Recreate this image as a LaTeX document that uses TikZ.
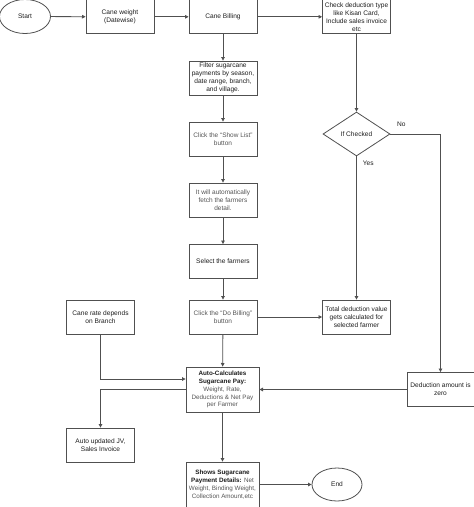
\documentclass[tikz,border=0pt]{standalone}
\usepackage{fontspec}
\setmainfont{Liberation Sans}
\usetikzlibrary{shapes.geometric,arrows.meta}
\definecolor{ln}{HTML}{505050}
\definecolor{tx}{HTML}{1E1E1E}
\definecolor{tl}{HTML}{555555}
\tikzset{
  base/.style={draw=ln, line width=0.8pt, font=\fontsize{6.6}{7.9}\selectfont, text=tx, align=center, inner sep=1pt},
  box/.style={base, rectangle, minimum width=68pt, minimum height=34pt},
  wbox/.style={base, rectangle, minimum width=73pt, minimum height=45pt},
  oval/.style={base, ellipse, minimum width=51pt, minimum height=34pt},
  dia/.style={base, diamond, minimum width=67pt, minimum height=44pt, inner sep=0pt},
  light/.style={text=tl, font=\fontsize{6.5}{7.9}\selectfont},
  lightw/.style={text=tl, font=\fontsize{6.3}{7.9}\selectfont},
  arr/.style={draw=ln, line width=0.8pt, -{Triangle[length=3.6pt,width=3.6pt]}},
  lbl/.style={font=\fontsize{6.6}{7.9}\selectfont, text=tx, inner sep=0pt}
}
\begin{document}
\begin{tikzpicture}[x=1pt,y=-1pt]
\useasboundingbox (0,0) rectangle (474,507);
\fill[white] (0,0) rectangle (474,507);
\clip (0,0) rectangle (474,507);

\node[oval] (start) at (25,16.5) {Start};
\node[box] (cw) at (120,16.8) {Cane weight\\(Datewise)};
\node[box] (cb) at (223,16.8) {Cane Billing};
\node[box] (cd) at (356.5,16.8) {Check deduction type\\like Kisan Card,\\Include sales invoice\\etc};

\node[box] (filter) at (223,78) {Filter sugarcane\\payments by season,\\date range, branch,\\and village.};
\node[box, light] (show) at (223,139) {Click the “Show List”\\button};
\node[box, light] (fetch) at (223,200) {It will automatically\\fetch the farmers\\detail.};
\node[box] (select) at (223,261.5) {Select the farmers};
\node[box, light] (dobill) at (223,317) {Click the “Do Billing”\\button};
\node[box] (rate) at (100.5,317) {Cane rate depends\\on Branch};
\node[box] (total) at (356.5,317) {Total deduction value\\gets calculated for\\selected farmer};

\node[dia] (chk) at (356.5,134) {If Checked};
\node[box, minimum width=67pt] (dz) at (440.5,389.5) {Deduction amount is\\zero};

\node[wbox, lightw] (auto) at (222.5,389.5) {\textcolor{tx}{\textbf{Auto-Calculates}}\\\textcolor{tx}{\textbf{Sugarcane Pay:}}\\Weight, Rate,\\Deductions \& Net Pay\\per Farmer};
\node[box] (jv) at (100.5,445) {Auto updated JV,\\Sales Invoice};
\node[wbox, lightw] (shows) at (222.5,484.5) {\textcolor{tx}{\textbf{Shows Sugarcane}}\\\textcolor{tx}{\textbf{Payment Details:}} Net\\Weight, Binding Weight,\\Collection Amount,etc};
\node[oval, minimum width=50pt, minimum height=33pt] (end) at (337,484.5) {End};

\draw[arr] (start) -- (cw);
\draw[arr] (cw) -- (cb);
\draw[arr] (cb) -- (cd);
\draw[arr] (cb) -- (filter);
\draw[arr] (filter) -- (show);
\draw[arr] (show) -- (fetch);
\draw[arr] (fetch) -- (select);
\draw[arr] (select) -- (dobill);
\draw[arr] (dobill) -- (auto);
\draw[arr] (dobill) -- (total);
\draw[arr] (cd) -- (chk);
\draw[arr] (chk) -- node[lbl, pos=0.05, right=6pt] (yes) {Yes} (total);
\draw[arr] (chk.east) -| node[lbl, pos=0.11, above=7pt] (no) {No} (dz.north);
\draw[arr] (rate.south) |- ([yshift=10.5pt]auto.west);
\draw[arr] (auto.west) -| (jv.north);
\draw[arr] (dz.west) -- (auto.east);
\draw[arr] (auto) -- (shows);
\draw[arr] (shows) -- (end);
\end{tikzpicture}
\end{document}
